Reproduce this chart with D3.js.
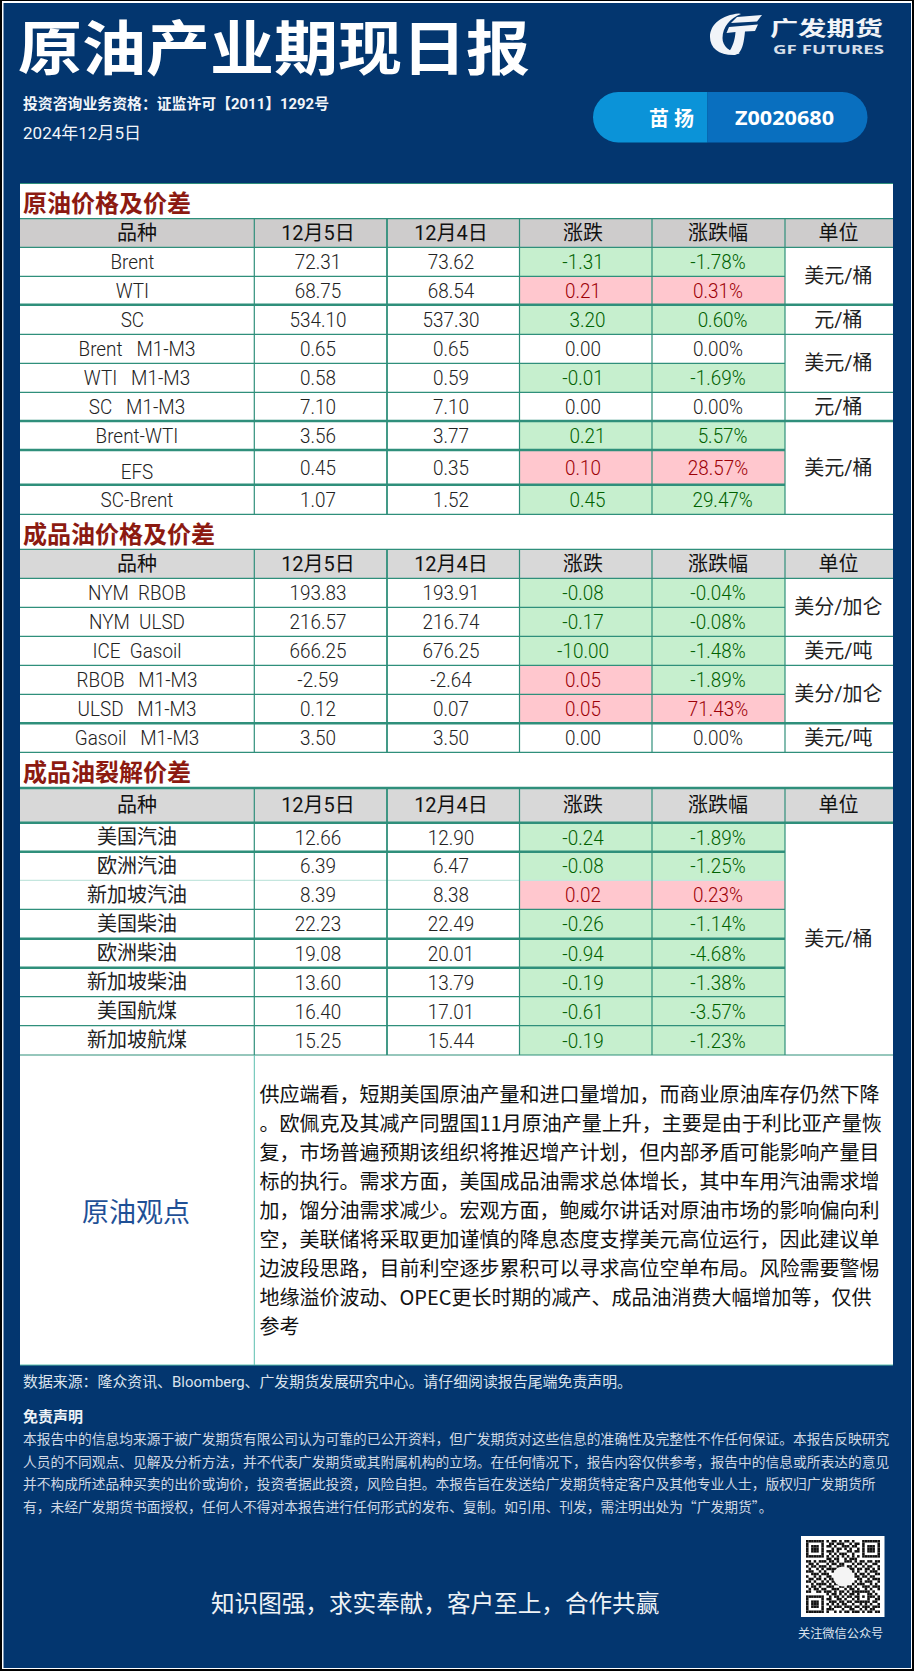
<!DOCTYPE html>
<html lang="zh"><head><meta charset="utf-8">
<script src="https://cdn.jsdelivr.net/npm/d3@7/dist/d3.min.js"></script>
<style>
html,body{margin:0;padding:0;background:#000}
svg{display:block}
text{white-space:pre;font-family:Roboto,"Noto Sans CJK SC",sans-serif}
</style></head><body><svg id="c" width="914" height="1671"></svg>
<script>
// ---------- data ----------
const headers = ["品种","12月5日","12月4日","涨跌","涨跌幅","单位"];
const sectionTitles = ["原油价格及价差","成品油价格及价差","成品油裂解价差"];

const crudeNames = ["Brent  ","WTI  ","SC  ","Brent   M1-M3","WTI   M1-M3","SC   M1-M3","Brent-WTI","EFS","SC-Brent"];
const crudeDec5  = ["72.31","68.75","534.10","0.65","0.58","7.10","3.56","0.45","1.07"];
const crudeDec4  = ["73.62","68.54","537.30","0.65","0.59","7.10","3.77","0.35","1.52"];
const crudeChg   = ["-1.31","0.21","  3.20","0.00","-0.01","0.00","  0.21","0.10","  0.45"];
const crudePct   = ["-1.78%","0.31%","  0.60%","0.00%","-1.69%","0.00%","  5.57%","28.57%","  29.47%"];
const crudeChgTone = ["d","u","d","","d","","d","u","d"];
const crudePctTone = ["d","u","d","","d","","d","u","d"];
const crudeUnits = [["美元/桶",0,2],["元/桶",2,3],["美元/桶",3,5],["元/桶",5,6],["美元/桶",6,9]];

const refinedNames = ["NYM  RBOB","NYM  ULSD","ICE  Gasoil","RBOB   M1-M3","ULSD   M1-M3","Gasoil   M1-M3"];
const refinedDec5  = ["193.83","216.57","666.25","-2.59","0.12","3.50"];
const refinedDec4  = ["193.91","216.74","676.25","-2.64","0.07","3.50"];
const refinedChg   = ["-0.08","-0.17","-10.00","0.05","0.05","0.00"];
const refinedPct   = ["-0.04%","-0.08%","-1.48%","-1.89%","71.43%","0.00%"];
const refinedChgTone = ["d","d","d","u","u",""];
const refinedPctTone = ["d","d","d","d","u",""];
const refinedUnits = [["美分/加仑",0,2],["美元/吨",2,3],["美分/加仑",3,5],["美元/吨",5,6]];

const crackNames = ["美国汽油","欧洲汽油","新加坡汽油","美国柴油","欧洲柴油","新加坡柴油","美国航煤","新加坡航煤"];
const crackDec5  = ["12.66","6.39","8.39","22.23","19.08","13.60","16.40","15.25"];
const crackDec4  = ["12.90","6.47","8.38","22.49","20.01","13.79","17.01","15.44"];
const crackChg   = ["-0.24","-0.08","0.02","-0.26","-0.94","-0.19","-0.61","-0.19"];
const crackPct   = ["-1.89%","-1.25%","0.23%","-1.14%","-4.68%","-1.38%","-3.57%","-1.23%"];
const crackChgTone = ["d","d","u","d","d","d","d","d"];
const crackPctTone = ["d","d","u","d","d","d","d","d"];
const crackUnits = [["美元/桶",0,8]];

const opinionLabel = "原油观点";
const opinionLines = [
"供应端看，短期美国原油产量和进口量增加，而商业原油库存仍然下降",
"。欧佩克及其减产同盟国11月原油产量上升，主要是由于利比亚产量恢",
"复，市场普遍预期该组织将推迟增产计划，但内部矛盾可能影响产量目",
"标的执行。需求方面，美国成品油需求总体增长，其中车用汽油需求增",
"加，馏分油需求减少。宏观方面，鲍威尔讲话对原油市场的影响偏向利",
"空，美联储将采取更加谨慎的降息态度支撑美元高位运行，因此建议单",
"边波段思路，目前利空逐步累积可以寻求高位空单布局。风险需要警惕",
"地缘溢价波动、OPEC更长时期的减产、成品油消费大幅增加等，仅供",
"参考"];
const sourceLine = "数据来源：隆众资讯、Bloomberg、广发期货发展研究中心。请仔细阅读报告尾端免责声明。";
const disclaimerTitle = "免责声明";
const disclaimerLines = [
"本报告中的信息均来源于被广发期货有限公司认为可靠的已公开资料，但广发期货对这些信息的准确性及完整性不作任何保证。本报告反映研究",
"人员的不同观点、见解及分析方法，并不代表广发期货或其附属机构的立场。在任何情况下，报告内容仅供参考，报告中的信息或所表达的意见",
"并不构成所述品种买卖的出价或询价，投资者据此投资，风险自担。本报告旨在发送给广发期货特定客户及其他专业人士，版权归广发期货所",
"有，未经广发期货书面授权，任何人不得对本报告进行任何形式的发布、复制。如引用、刊发，需注明出处为“广发期货”。"];
const qrRows = [
"11111110101101011010001111111",
"10000010011011100101101000001",
"10111010110100111011001011101",
"10111010001011010100101011101",
"10111010111010001101101011101",
"10000010010101110010001000001",
"11111110101010101010101111111",
"00000000110110010111000000000",
"11010111011010011101011011011",
"01101000101101100010110100110",
"10110111010011101101001011001",
"01001010111100010110110110101",
"11100101001011111010100101110",
"00111011100100000001011010011",
"10010100110100000001101101100",
"01101101011000000000110010111",
"11010010101100000001010111001",
"00101111010110000010111001010",
"10110100111001101101001110111",
"01011011001110010110100101001",
"11001101110101101011111110100",
"00000000101101010110100011010",
"11111110010110101101101011101",
"10000010110011010010100010011",
"10111010011101101101111110110",
"10111010101010110010010101001",
"10111010010111011101101110111",
"10000010111000100110010101100",
"11111110100101011011101011011"];
// ---------- layout ----------
const svg = d3.select("#c");
const NAVY="#03366f", TEAL="#2f8f7b", LT="#5bbfae";
const colX = d3.scaleLinear().domain([0,1,2,3,4,5,6]).range([20,254.3,387,519.5,652,785,893]);
const colMid = d3.scaleOrdinal().domain([0,1,2,3,4,5]).range([137,318,451,583,718,838.5]);
const tables = [
 {title:0,titleY:201,top:183.5,hdrFill:"#cecccc",
  edges:[218.7,247.3,276.3,304.7,334.3,363.3,392.3,421,450,484.7,514.3],
  thick:[3,7,8,9],faint:[],
  d:[crudeNames,crudeDec5,crudeDec4,crudeChg,crudePct],t:[crudeChgTone,crudePctTone],u:crudeUnits},
 {title:1,titleY:532.7,top:514.3,hdrFill:"#d8d8d8",
  edges:[549.3,578.3,607.3,636.3,665.3,694.3,723.3,752.3],
  thick:[6],faint:[],
  d:[refinedNames,refinedDec5,refinedDec4,refinedChg,refinedPct],t:[refinedChgTone,refinedPctTone],u:refinedUnits},
 {title:2,titleY:770,top:752.3,hdrFill:"#d8d8d8",
  edges:[788,822.7,851.7,880.3,909.3,938.7,967.7,996.7,1025.7,1055],
  thick:[0,1,2,5,6],faint:[3],
  d:[crackNames,crackDec5,crackDec4,crackChg,crackPct],t:[crackChgTone,crackPctTone],u:crackUnits}
];
const toneFill = {d:"#c6efce",u:"#ffc7ce"}, toneInk = {d:"#006100",u:"#9c0006"};
const hasCJK = s => /[\u3000-\u9fff]/.test(s);
const nameDrop = {EFS:4};

// frame
svg.append("rect").attr("width",914).attr("height",1671).attr("fill","#000");
svg.append("rect").attr("x",2).attr("y",1).attr("width",910).attr("height",1668).attr("fill","#fff");
svg.append("rect").attr("x",3.5).attr("y",3).attr("width",907.5).attr("height",1665).attr("fill",NAVY);

function txt(g,x,y,s,o={}){
  const t=g.append("text").text(s)
    .attr("text-anchor",o.anchor||"middle").attr("dominant-baseline","central")
    .attr("font-size",o.size||20).attr("font-weight",o.weight||400).attr("fill",o.fill||"#111");
  if(o.sx) t.attr("transform",`translate(${x},${y}) scale(${o.sx},1)`);
  else t.attr("x",x).attr("y",y);
  if(o.family) t.style("font-family",o.family);
  if(o.len) t.attr("textLength",o.len).attr("lengthAdjust","spacingAndGlyphs");
  return t;
}

// header
const head=svg.append("g");
txt(head,18,44,"原油产业期现日报",{anchor:"start",size:59,weight:700,fill:"#fff",len:512,family:'"Noto Sans CJK SC"'});
txt(head,23,103.5,"投资咨询业务资格：证监许可【2011】1292号",{anchor:"start",size:15,weight:700,fill:"#f2f5f9",len:306});
txt(head,23,132.5,"2024年12月5日",{anchor:"start",size:17,fill:"#f2f5f9",len:118});

// logo
const logo=svg.append("g").attr("fill","#f1f4f8");
logo.append("path").attr("d","M739,13.5C722,15 710,24 710,37C710,48 719,55.5 735,55L740,53C729,52 722.5,46 722.5,38C722.5,27 730,18 741,14Z");
logo.append("path").attr("d","M737,17L762,15L757,21.5L731,23Z");
logo.append("path").attr("d","M729,27L758,24.5L755,31L745,31.5C744,41 743,49 738,54L728,53C733,47 735,39 735.5,32L726.5,33Z");
txt(logo,770,27,"广发期货",{anchor:"start",size:20,weight:700,fill:"#f1f4f8",len:113,family:'"Noto Sans CJK SC"'});
txt(logo,773,49.5,"GF FUTURES",{anchor:"start",size:12,weight:700,fill:"#d6dfe9",len:111,family:'"Noto Sans"'});

// pill
const pillClip=svg.append("clipPath").attr("id","pill");
pillClip.append("rect").attr("x",593).attr("y",92).attr("width",274.5).attr("height",50.5).attr("rx",25.25);
const pill=svg.append("g").attr("clip-path","url(#pill)");
pill.append("rect").attr("x",593).attr("y",92).attr("width",114.5).attr("height",51).attr("fill","#0b93d8");
pill.append("rect").attr("x",707.5).attr("y",92).attr("width",161).attr("height",51).attr("fill","#096fbf");
txt(svg,649,117.5,"苗",{anchor:"start",size:20,weight:700,fill:"#fff",family:'"Noto Sans CJK SC"'});
txt(svg,674,117.5,"扬",{anchor:"start",size:20,weight:700,fill:"#fff",family:'"Noto Sans CJK SC"'});
txt(svg,735,117.5,"Z0020680",{anchor:"start",size:20,weight:700,fill:"#fff",len:99,family:'"Noto Sans"'});

// white panel
svg.append("rect").attr("x",20).attr("y",183).attr("width",873).attr("height",1182).attr("fill","#fff");

function drawTable(T){
  const g=svg.append("g");
  const rowY=d3.scaleLinear().domain(d3.range(T.edges.length)).range(T.edges);
  const n=T.edges.length-2;
  const rows=d3.range(n);
  txt(g,23,T.titleY,sectionTitles[T.title],{anchor:"start",size:24,weight:700,fill:"#8c1a11",family:'"Noto Sans CJK SC"'});
  g.append("rect").attr("x",colX(0)).attr("y",rowY(0)).attr("width",colX(6)-colX(0)).attr("height",rowY(1)-rowY(0)).attr("fill",T.hdrFill);
  T.t.forEach((tone,k)=>{
    g.selectAll(null).data(rows.filter(i=>tone[i])).join("rect")
     .attr("x",colX(3+k)).attr("width",colX(4+k)-colX(3+k))
     .attr("y",i=>rowY(i+1)).attr("height",i=>rowY(i+2)-rowY(i+1))
     .attr("fill",i=>toneFill[tone[i]]);
  });
  const inner=new Set(); T.u.forEach(([,a,b])=>{for(let r=a+1;r<b;r++)inner.add(r);});
  d3.range(0,n+2).forEach(e=>{
    const y=rowY(e), w=T.thick.includes(e)?2.4:1.2;
    const spanned=e>=2 && inner.has(e-1);
    g.append("line").attr("x1",20).attr("x2",spanned?colX(5):893).attr("y1",y).attr("y2",y)
     .attr("stroke",T.faint.includes(e)?"#c4e6de":TEAL).attr("stroke-width",w);
  });
  if(T.title===0) g.append("line").attr("x1",20).attr("x2",893).attr("y1",T.top).attr("y2",T.top).attr("stroke",TEAL).attr("stroke-width",1.2);
  [1,2,3,4,5].forEach(c=>{
    g.append("line").attr("x1",colX(c)).attr("x2",colX(c)).attr("y1",rowY(0)).attr("y2",rowY(n+1))
     .attr("stroke",TEAL).attr("stroke-width",c===2?1.8:1.2);
  });
  headers.forEach((h,c)=>txt(g,colMid(c),(rowY(0)+rowY(1))/2,h,{size:20,fill:"#111"}));
  T.d.forEach((col,c)=>{
    col.forEach((v,i)=>{
      const y=(rowY(i+1)+rowY(i+2))/2;
      const tone=c>=3?T.t[c-3][i]:"";
      const ink=tone?toneInk[tone]:"#222";
      if(hasCJK(v)) txt(g,colMid(c),y,v,{size:20,fill:"#222"});
      else txt(g,colMid(c),y+(c===0?(nameDrop[v]||0):0),v,{size:21,weight:300,fill:ink,sx:.9});
    });
  });
  T.u.forEach(([u,a,b])=>{
    txt(g,colMid(5),(rowY(a+1)+rowY(b+1))/2,u,{size:20,fill:"#222"});
  });
}
tables.forEach(drawTable);

// opinion block
const op=svg.append("g");
op.append("line").attr("x1",colX(1)).attr("x2",colX(1)).attr("y1",1055).attr("y2",1365).attr("stroke",LT).attr("stroke-width",1);
op.append("line").attr("x1",20).attr("x2",893).attr("y1",1365).attr("y2",1365).attr("stroke",LT).attr("stroke-width",1);
txt(op,136,1210,opinionLabel,{size:27,fill:"#1f5096",family:'"Noto Sans CJK SC"'});
const lineY=d3.scaleLinear().domain([0,8]).range([1093.3,1325]);
opinionLines.forEach((l,i)=>txt(op,259.5,lineY(i),l,{anchor:"start",size:20,fill:"#111",family:'"Noto Sans CJK SC"'}));

// footer
const ft=svg.append("g");
txt(ft,23,1381.7,sourceLine,{anchor:"start",size:15,fill:"#dbe3ed",len:609});
txt(ft,23,1415,disclaimerTitle,{anchor:"start",size:15,weight:700,fill:"#eef2f6",family:'"Noto Sans CJK SC"'});
const discY=d3.scaleLinear().domain([0,3]).range([1438.3,1506]);
disclaimerLines.forEach((l,i)=>txt(ft,23,discY(i),l,{anchor:"start",size:13.75,fill:"#cfd8e4",family:'"Noto Sans CJK SC"'}));
txt(ft,211,1601.7,"知识图强，求实奉献，客户至上，合作共赢",{anchor:"start",size:23.6,fill:"#eef2f6",family:'"Noto Sans CJK SC"'});

// QR
const qr=svg.append("g");
qr.append("rect").attr("x",801).attr("y",1536).attr("width",83.5).attr("height",81).attr("fill","#fff");
const qx=d3.scaleBand().domain(d3.range(29)).range([806,880]);
const qy=d3.scaleBand().domain(d3.range(29)).range([1540,1613]);
qrRows.forEach((r,j)=>[...r].forEach((b,i)=>{
  if(b==="1") qr.append("rect").attr("x",qx(i)).attr("y",qy(j)).attr("width",qx.bandwidth()).attr("height",qy.bandwidth()).attr("fill","#111");
}));
qr.append("circle").attr("cx",843).attr("cy",1576.5).attr("r",10).attr("fill","#f4f4f4");
txt(ft,798,1633,"关注微信公众号",{anchor:"start",size:12.2,fill:"#dbe3ed",family:'"Noto Sans CJK SC"'});
</script></body></html>
